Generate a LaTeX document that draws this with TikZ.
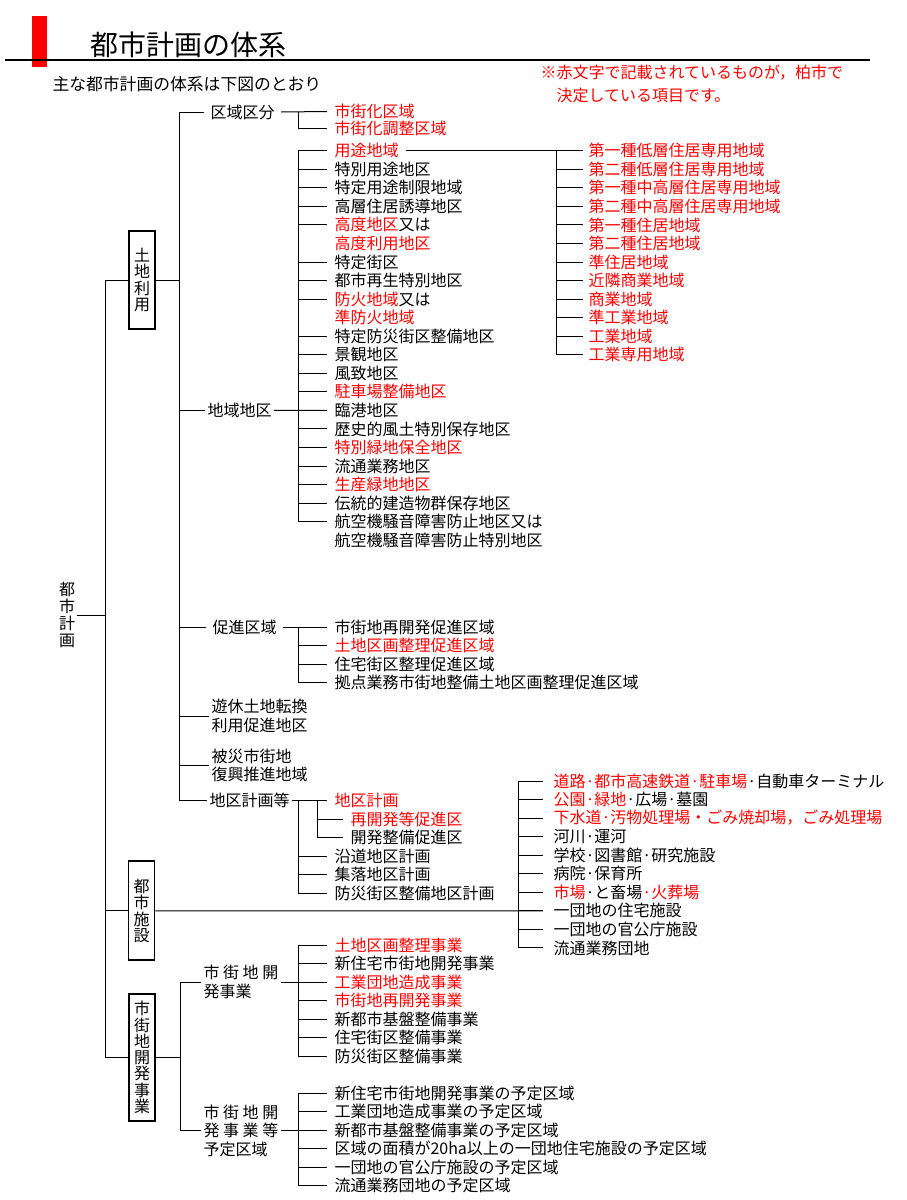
\documentclass[tikz,border=0pt]{standalone}
\usepackage{fontspec}
\setmainfont{Noto Sans CJK JP}
\usepackage{tikz}
\usetikzlibrary{positioning,calc}
\definecolor{jred}{RGB}{255,0,0}
\newcommand{\redtxt}[1]{\textcolor{jred}{#1}}

\begin{document}
\begin{tikzpicture}[x=1pt,y=-1pt,line width=1pt,
  listitem/.style={anchor=west,inner xsep=7pt,inner ysep=1pt,font=\fontsize{16}{18.5}\selectfont},
  grp/.style={anchor=west,inner xsep=2pt,inner ysep=1pt,align=left,font=\fontsize{16}{18.5}\selectfont},
  vtext/.style={align=center,inner sep=1pt,font=\fontsize{16}{16.3}\selectfont},
  vbox/.style={vtext,draw,line width=1.8pt,minimum width=26pt}]
\useasboundingbox (0,0) rectangle (906,1200);
\fill[jred] (32,16) rectangle (47,67);
\draw[line width=2.2pt] (5,60)--(870,60);
\node[anchor=west,inner sep=0pt,font=\fontsize{28}{30}\selectfont] (title) at (90,45) {都市計画の体系};
\node[anchor=west,inner sep=0pt,font=\fontsize{16.8}{18}\selectfont] (sub) at (52,84) {主な都市計画の体系は下図のとおり};
\node[anchor=west,inner sep=0pt,text=jred,font=\fontsize{16}{18}\selectfont] (note1) at (540,73) {※赤文字で記載されているものが，柏市で};
\node[anchor=west,inner sep=0pt,text=jred,font=\fontsize{16}{18}\selectfont] (note2) at (556,95) {決定している項目です。};

\coordinate (tA) at (105,0);
\coordinate (tB) at (179,0);
\coordinate (bC) at (298,0);
\coordinate (bD) at (556,0);
\coordinate (bF) at (317,0);
\coordinate (bG) at (518,0);
\coordinate (tH) at (180,0);

\node[vtext,font=\fontsize{16}{17}\selectfont] (root) at (67,615) {都\\市\\計\\画};
\node[vbox,minimum height=98pt] (lu) at (142,280) {土\\地\\利\\用};
\node[vbox,minimum height=99pt] (fac) at (141.5,910.85) {都\\市\\施\\設};
\node[vbox,minimum height=127pt] (dev) at (142,1057.5) {市\\街\\地\\開\\発\\事\\業};
\draw (root.east)--(tA |- root.east);
\draw (tA |- lu.west)--(tA |- dev.west);
\foreach \n in {lu,fac,dev} \draw (tA |- \n.west)--(\n.west);

\node[grp,inner xsep=6pt] (kk) at (204,112) {区域区分};
\node[grp] (zz) at (205,410.4) {地域地区};
\node[grp,inner xsep=6pt] (sk) at (206,627) {促進区域};
\node[grp] (yk) at (209,716) {遊休土地転換\\利用促進地区};
\node[grp] (hs) at (209,765.5) {被災市街地\\復興推進地域};
\node[grp] (dkk) at (207,800.5) {地区計画等};
\draw (lu.east)--(tB |- lu.east);
\draw (tB |- kk.west)--(tB |- dkk.west);
\foreach \n in {kk,zz,sk,yk,hs,dkk} \draw (tB |- \n.west)--(\n.west);

\node[listitem,text=jred] (kk1) at (327,111.5) {市街化区域};
\node[listitem,text=jred] (kk2) at (327,128) {市街化調整区域};
\draw (kk.east)--(kk1.west);
\draw (bC |- kk1.west) |- (kk2.west);

\foreach \t [count=\i from 0] in {\redtxt{用途地域},特別用途地区,特定用途制限地域,高層住居誘導地区,{\redtxt{高度地区}又は},\redtxt{高度利用地区},特定街区,都市再生特別地区,{\redtxt{防火地域}又は},\redtxt{準防火地域},特定防災街区整備地区,景観地区,風致地区,\redtxt{駐車場整備地区},臨港地区,歴史的風土特別保存地区,\redtxt{特別緑地保全地区},流通業務地区,\redtxt{生産緑地地区},伝統的建造物群保存地区,航空機騒音障害防止地区又は,航空機騒音障害防止特別地区}
  \node[listitem] (z\i) at (327,{150.7+18.55*\i}) {\t};
\draw (bC |- z0.west)--(bC |- z20.west);
\foreach \i in {0,1,2,3,4,6,7,8,10,11,12,13,15,16,17,18,19,20} \draw (bC |- z\i.west)--(z\i.west);
\draw (zz.east)--(z14.west);

\foreach \t [count=\i from 0] in {第一種低層住居専用地域,第二種低層住居専用地域,第一種中高層住居専用地域,第二種中高層住居専用地域,第一種住居地域,第二種住居地域,準住居地域,近隣商業地域,商業地域,準工業地域,工業地域,工業専用地域}
  \node[listitem,text=jred,inner xsep=5pt] (u\i) at (583,{150.7+18.55*\i}) {\t};
\draw (z0.east)--(u0.west);
\draw (bD |- u0.west)--(bD |- u11.west);
\foreach \i in {1,...,11} \draw (bD |- u\i.west)--(u\i.west);

\foreach \t [count=\i from 0] in {市街地再開発促進区域,\redtxt{土地区画整理促進区域},住宅街区整理促進区域,拠点業務市街地整備土地区画整理促進区域}
  \node[listitem] (s\i) at (327,{627+18.5*\i}) {\t};
\draw (sk.east)--(s0.west);
\draw (bC |- s0.west)--(bC |- s3.west);
\foreach \i in {1,2,3} \draw (bC |- s\i.west)--(s\i.west);

\node[listitem,text=jred] (d0) at (327,800.5) {地区計画};
\node[listitem,text=jred] (d1) at (343,819) {再開発等促進区};
\node[listitem] (d2) at (343,837.5) {開発整備促進区};
\node[listitem] (d3) at (327,856) {沿道地区計画};
\node[listitem] (d4) at (327,874.5) {集落地区計画};
\node[listitem] (d5) at (327,893) {防災街区整備地区計画};
\draw (dkk.east)--(d0.west);
\draw (bC |- d0.west)--(bC |- d5.west);
\foreach \i in {3,4,5} \draw (bC |- d\i.west)--(d\i.west);
\draw (bF |- d0.west)--(bF |- d2.west);
\foreach \i in {1,2} \draw (bF |- d\i.west)--(d\i.west);

\foreach \t [count=\i from 0] in {{\redtxt{道路·都市高速鉄道·駐車場}·自動車ターミナル},{\redtxt{公園·緑地}·広場·墓園},\redtxt{下水道·汚物処理場・ごみ焼却場，ごみ処理場},河川·運河,学校·図書館·研究施設,病院·保育所,{\redtxt{市場}·と畜場\redtxt{·火葬場}},一団地の住宅施設,一団地の官公庁施設,流通業務団地}
  \node[listitem,inner xsep=10pt] (f\i) at (543,{781+18.55*\i}) {\t};
\draw (fac.east)--(f7.west);
\draw (bG |- f0.west)--(bG |- f9.west);
\foreach \i in {0,...,9} \draw (bG |- f\i.west)--(f\i.west);

\node[grp] (ka) at (201,982) {市 街 地 開\\発事業};
\node[grp] (yt) at (201,1130.5) {市 街 地 開\\発 事 業 等\\予定区域};
\draw (dev.east)--(tH |- dev.east);
\draw (tH |- ka.west)--(tH |- yt.west);
\foreach \n in {ka,yt} \draw (tH |- \n.west)--(\n.west);

\foreach \t [count=\i from 0] in {\redtxt{土地区画整理事業},新住宅市街地開発事業,\redtxt{工業団地造成事業},\redtxt{市街地再開発事業},新都市基盤整備事業,住宅街区整備事業,防災街区整備事業}
  \node[listitem] (k\i) at (327,{945+18.5*\i}) {\t};
\draw (ka.east)--(bC |- ka.east);
\draw (bC |- k0.west)--(bC |- k6.west);
\foreach \i in {0,...,6} \draw (bC |- k\i.west)--(k\i.west);

\foreach \t [count=\i from 0] in {新住宅市街地開発事業の予定区域,工業団地造成事業の予定区域,新都市基盤整備事業の予定区域,区域の面積が20ha以上の一団地住宅施設の予定区域,一団地の官公庁施設の予定区域,流通業務団地の予定区域}
  \node[listitem] (y\i) at (327,{1093+18.5*\i}) {\t};
\draw (yt.east)--(bC |- yt.east);
\draw (bC |- y0.west)--(bC |- y5.west);
\foreach \i in {0,...,5} \draw (bC |- y\i.west)--(y\i.west);
\end{tikzpicture}
\end{document}
